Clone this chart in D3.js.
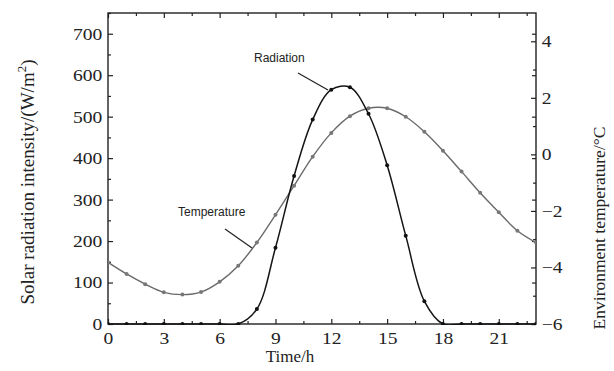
<!DOCTYPE html>
<html>
<head>
<meta charset="utf-8">
<script src="https://cdn.jsdelivr.net/npm/d3@7"></script>
<style>
  body { margin: 0; background: #fff; }
  text { font-family: "Liberation Serif", "Times New Roman", serif; fill: #222; }
</style>
</head>
<body>
<svg id="chart" width="614" height="371"></svg>
<script>
// hourly readings
const hours = [0,1,2,3,4,5,6,7,8,9,10,11,12,13,14,15,16,17,18,19,20,21,22,23];
const radiation = [0,0,0,0,0,0,0,0,36,184,357,493,565,571,507,383,213,55,0,0,0,0,0,0];
const temperature = [-3.82,-4.23,-4.59,-4.88,-4.96,-4.87,-4.51,-3.94,-3.12,-2.14,-1.11,-0.08,
  0.76,1.35,1.63,1.63,1.33,0.80,0.13,-0.61,-1.36,-2.05,-2.70,-3.12];

const xTicks = [0,3,6,9,12,15,18,21];
const leftTicks = [0,100,200,300,400,500,600,700];
const rightTicks = [-6,-4,-2,0,2,4];

const margin = {top: 13, left: 108, right: 78, bottom: 47};
const width = 614 - margin.left - margin.right;
const height = 371 - margin.top - margin.bottom;

const svg = d3.select('#chart');
const g = svg.append('g')
  .attr('transform', 'translate(' + margin.left + ',' + margin.top + ')');

const x = d3.scaleLinear().domain([0, 23]).range([0, width]);
const yL = d3.scaleLinear().domain([0, 750]).range([height, 0]);
const yR = d3.scaleLinear().domain([-6, 5]).range([height, 0]);

const stretch = 'scale(1.15,1)';
const serif = '"Liberation Serif", "Times New Roman", serif';

// ticks - all pointing inward
function styleAxis(sel) {
  sel.attr('font-family', serif);
  sel.select('.domain').remove();
  sel.selectAll('line').attr('stroke', '#222').attr('stroke-width', 1.2);
  sel.selectAll('text').style('font-size', '17px').style('font-family', serif).attr('fill', '#2a2520');
}

g.append('g').attr('transform', 'translate(0,' + height + ')')
  .call(d3.axisBottom(x).tickValues(xTicks).tickSize(-5).tickPadding(8).tickFormat(d3.format('d')))
  .call(styleAxis)
  .selectAll('text').attr('transform', stretch);
g.append('g').attr('transform', 'translate(0,' + height + ')')
  .call(d3.axisBottom(x).tickValues(xTicks.map(d => d + 1.5)).tickSize(-3).tickFormat(''))
  .call(styleAxis);
g.append('g')
  .call(d3.axisTop(x).tickValues(xTicks).tickSize(-5).tickFormat(''))
  .call(styleAxis);
g.append('g')
  .call(d3.axisTop(x).tickValues(xTicks.map(d => d + 1.5)).tickSize(-3).tickFormat(''))
  .call(styleAxis);

g.append('g')
  .call(d3.axisLeft(yL).tickValues(leftTicks).tickSize(-5).tickPadding(5))
  .call(styleAxis)
  .selectAll('text').attr('transform', stretch);
g.append('g')
  .call(d3.axisLeft(yL).tickValues(leftTicks.map(d => d + 50)).tickSize(-3).tickFormat(''))
  .call(styleAxis);

g.append('g').attr('transform', 'translate(' + width + ',0)')
  .call(d3.axisRight(yR).tickValues(rightTicks).tickSize(-5).tickPadding(5)
    .tickFormat(d => d < 0 ? '\u2212' + Math.abs(d) : d))
  .call(styleAxis)
  .selectAll('text').attr('transform', stretch).attr('x', 5);
g.append('g').attr('transform', 'translate(' + width + ',0)')
  .call(d3.axisRight(yR).tickValues([-5,-3,-1,1,3]).tickSize(-3).tickFormat(''))
  .call(styleAxis);
g.append('g').attr('transform', 'translate(' + width + ',0)')
  .call(d3.axisRight(yL).tickValues(leftTicks).tickSize(-4).tickFormat(''))
  .call(styleAxis);

// frame
g.append('rect')
  .attr('width', width).attr('height', height)
  .attr('fill', 'none').attr('stroke', '#222').attr('stroke-width', 1.4);

g.append('clipPath').attr('id', 'plotClip')
  .append('rect').attr('width', width).attr('height', height + 1);

const plot = g.append('g').attr('clip-path', 'url(#plotClip)');

const tempLine = d3.line()
  .x((d, i) => x(hours[i]))
  .y(d => yR(d))
  .curve(d3.curveCatmullRom.alpha(0.5));
const radLine = d3.line()
  .x((d, i) => x(hours[i]))
  .y(d => yL(d))
  .curve(d3.curveCatmullRom.alpha(0.5));

plot.append('path').datum(temperature)
  .attr('d', tempLine).attr('fill', 'none')
  .attr('stroke', '#6a6a6a').attr('stroke-width', 1.4);
plot.selectAll('.tdot').data(temperature).enter().append('circle')
  .attr('class', 'tdot')
  .attr('cx', (d, i) => x(hours[i])).attr('cy', d => yR(d))
  .attr('r', 2).attr('fill', '#777');

plot.append('path').datum(radiation)
  .attr('d', radLine).attr('fill', 'none')
  .attr('stroke', '#151515').attr('stroke-width', 1.5);
plot.selectAll('.rdot').data(radiation).enter().append('circle')
  .attr('class', 'rdot')
  .attr('cx', (d, i) => x(hours[i])).attr('cy', d => yL(d))
  .attr('r', 2).attr('fill', '#111');

// annotations
g.append('text').attr('x', 146).attr('y', 49)
  .style('font-family', '"Liberation Sans", Arial, sans-serif').style('font-size', '12px')
  .attr('fill', '#222').text('Radiation');
g.append('line').attr('x1', 190).attr('y1', 60).attr('x2', 220).attr('y2', 77)
  .attr('stroke', '#222').attr('stroke-width', 1.2);

g.append('text').attr('x', 70).attr('y', 203)
  .style('font-family', '"Liberation Sans", Arial, sans-serif').style('font-size', '12px')
  .attr('fill', '#222').text('Temperature');
g.append('line').attr('x1', 117).attr('y1', 216).attr('x2', 144).attr('y2', 235)
  .attr('stroke', '#222').attr('stroke-width', 1.2);

// axis titles
svg.append('text').attr('x', 290).attr('y', 362)
  .attr('text-anchor', 'middle').style('font-size', '17px').text('Time/h');

const lt = svg.append('text')
  .attr('transform', 'translate(34,182) rotate(-90)')
  .attr('text-anchor', 'middle').style('font-size', '19px');
lt.append('tspan').text('Solar radiation intensity/(W/m');
lt.append('tspan').attr('dy', -8).style('font-size', '13px').text('2');
lt.append('tspan').attr('dy', 8).text(')');

svg.append('text')
  .attr('transform', 'translate(605,228) rotate(-90)')
  .attr('text-anchor', 'middle').style('font-size', '17.5px')
  .text('Environment temperature/\u00B0C');
</script>
</body>
</html>
